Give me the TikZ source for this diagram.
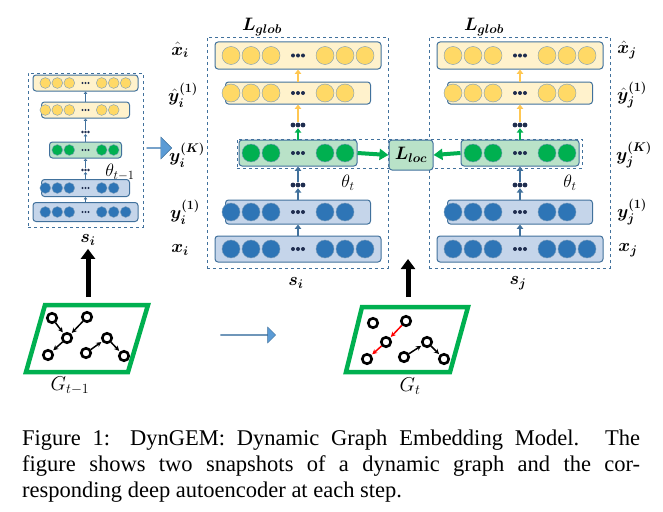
\RequirePackage{fix-cm}
\documentclass[tikz,border=0pt]{standalone}
\usepackage{fontspec}
\setmainfont{Liberation Serif}
\usepackage{amsmath}
\usepackage{bm}
\usetikzlibrary{arrows.meta,shapes.arrows,positioning}

\definecolor{layb}{HTML}{41719C}
\definecolor{ylbox}{HTML}{FFF2CC}
\definecolor{yldot}{HTML}{FFD966}
\definecolor{grbox}{HTML}{B9E2C8}
\definecolor{grdot}{HTML}{00B050}
\definecolor{blbox}{HTML}{C5D5EA}
\definecolor{bldot}{HTML}{2E75B6}
\definecolor{arrb}{HTML}{5B9BD5}
\definecolor{navy}{HTML}{1F2D4F}

\tikzset{
  lay/.style={draw=layb, rounded corners=3pt, line width=1pt, inner sep=0pt},
  ae/.style={draw=layb, dashed, line width=0.9pt, inner sep=0pt},
  lbl/.style={font=\fontsize{18}{20}\selectfont},
  up/.style={-{Triangle[width=#1*2.6pt,length=#1*1.8pt]}, line width=#1*1pt, draw=layb},
  up/.default=2.4,
  yup/.style={up=#1, draw=yldot!80!orange},
  yup/.default=2.4,
  gup/.style={up=#1, draw=grdot},
  gup/.default=2.4,
  loc/.style={-{Triangle[width=11pt,length=9pt]}, line width=4pt, draw=grdot},
  bigup/.style={-{Triangle[width=14pt,length=10pt]}, line width=5pt},
  blk/.style={single arrow, draw=layb, fill=arrb, single arrow head extend=4pt, inner sep=0pt},
  frame/.style={draw=grdot, line width=4.5pt, line join=miter},
  gn/.style={circle, draw, line width=2.6pt, minimum size=9.5pt, inner sep=0pt},
  ge/.style={-{Stealth[length=5pt,width=5pt]}, line width=1.5pt, shorten >=1pt},
}

% layer: name, cx, cy, width, height, colour, left count, right count, pitch
\newcommand\aelayer[9]{%
  \node[lay, fill=#6box, minimum width=#4, minimum height=#5] (#1) at (#2,#3) {};
  \foreach \k in {1,...,#7}
    \fill[#6dot, draw=layb!70, line width=0.4pt] ({#2-(0.35+\k)*#9},#3) circle[radius={0.45*#9pt}];
  \foreach \k in {1,...,#8}
    \fill[#6dot, draw=layb!70, line width=0.4pt] ({#2+(0.35+\k)*#9},#3) circle[radius={0.45*#9pt}];
  \foreach \k in {-1,0,1}
    \fill[navy] ({#2+0.25*\k*#9},#3) circle[radius={0.1*#9pt}];
}
% dots between layers: name, cx, cy, pitch
\newcommand\aedots[4]{%
  \node[minimum width=0.8*#4, minimum height=0.3*#4, inner sep=0pt] (#1) at (#2,#3) {};
  \foreach \k in {-1,0,1}
    \fill[navy] ({#2+0.25*\k*#4},#3) circle[radius={0.12*#4pt}];
}

\begin{document}
\begin{tikzpicture}[x=1pt,y=-1pt]
\useasboundingbox (0,0) rectangle (663,511);

% previous step
\node[ae, minimum width=115, minimum height=154] (aeL) at (85.5,150) {};
\aelayer{ye1L}{85.5}{83}{105}{16}{yl}{3}{3}{12}
\aelayer{ye2L}{85.5}{110}{88}{16}{yl}{3}{2}{12}
\aedots{d1L}{85.5}{132}{12}
\aelayer{grL}{85.5}{150}{72}{16}{gr}{2}{2}{12}
\aedots{d2L}{85.5}{170}{12}
\aelayer{bl2L}{85.5}{188}{88}{17}{bl}{3}{2}{12}
\aelayer{bl1L}{85.5}{212}{105}{19}{bl}{3}{3}{12}
\draw[up=1.3] (bl1L.north) -- (bl2L.south);
\draw[up=1.3] (bl2L.north) -- (d2L.south);
\draw[up=1.3] (d2L.north) -- (grL.south);
\draw[up=1.3] (grL.north) -- (d1L.south);
\draw[up=1.3] (d1L.north) -- (ye2L.south);
\draw[up=1.3] (ye2L.north) -- (ye1L.south);
\node[lbl] at (120,172) {$\theta_{t-1}$};
\node[lbl] (siL) at (88,240) {$\bm{s_i}$};

% current step, node i
\node[ae, minimum width=181, minimum height=231] (aeM) at (297.5,152.5) {};
\node[ae, minimum width=345, minimum height=29] (cross) at (409.5,153.5) {};
\aelayer{ye1M}{298}{55.5}{166}{27}{yl}{3}{3}{20}
\aelayer{ye2M}{298}{93}{145}{22}{yl}{3}{2}{20}
\aedots{d1M}{298}{125}{20}
\aelayer{grM}{298}{153}{118}{26}{gr}{2}{2}{20}
\aedots{d2M}{298}{185}{20}
\aelayer{bl2M}{298}{212}{145}{24}{bl}{3}{2}{20}
\aelayer{bl1M}{298}{249}{166}{26}{bl}{3}{3}{20}
\draw[up] (bl1M.north) -- (bl2M.south);
\draw[up] (bl2M.north) -- (d2M.south);
\draw[up] (d2M.north) -- (grM.south);
\draw[gup] (grM.north) -- (d1M.south);
\draw[yup] (d1M.north) -- (ye2M.south);
\draw[yup] (ye2M.north) -- (ye1M.south);
\node[lbl] at (262,27) {$\bm{L_{glob}}$};
\node[lbl] at (348,183) {$\theta_t$};
\node[lbl] (siM) at (296,283) {$\bm{s_i}$};
\node[lbl] at (180,50) {$\bm{\hat{x}_i}$};
\node[lbl] at (183,95) {$\bm{\hat{y}_i^{(1)}}$};
\node[lbl] (ykM) at (187,155) {$\bm{y_i^{(K)}}$};
\node[lbl] at (185,212) {$\bm{y_i^{(1)}}$};
\node[lbl] at (180,250) {$\bm{x_i}$};

% current step, node j
\node[ae, minimum width=181, minimum height=231] (aeR) at (519.5,152.5) {};
\aelayer{ye1R}{520}{55.5}{166}{27}{yl}{3}{3}{20}
\aelayer{ye2R}{520}{93}{145}{22}{yl}{3}{2}{20}
\aedots{d1R}{520}{125}{20}
\aelayer{grR}{520}{153}{118}{26}{gr}{2}{2}{20}
\aedots{d2R}{520}{185}{20}
\aelayer{bl2R}{520}{212}{145}{24}{bl}{3}{2}{20}
\aelayer{bl1R}{520}{249}{166}{26}{bl}{3}{3}{20}
\draw[up] (bl1R.north) -- (bl2R.south);
\draw[up] (bl2R.north) -- (d2R.south);
\draw[up] (d2R.north) -- (grR.south);
\draw[gup] (grR.north) -- (d1R.south);
\draw[yup] (d1R.north) -- (ye2R.south);
\draw[yup] (ye2R.north) -- (ye1R.south);
\node[lbl] at (484,27) {$\bm{L_{glob}}$};
\node[lbl] at (570,183) {$\theta_t$};
\node[lbl] (sjR) at (518,283) {$\bm{s_j}$};
\node[lbl] at (627,50) {$\bm{\hat{x}_j}$};
\node[lbl] at (632,95) {$\bm{\hat{y}_j^{(1)}}$};
\node[lbl] at (634,155) {$\bm{y_j^{(K)}}$};
\node[lbl] at (632,212) {$\bm{y_j^{(1)}}$};
\node[lbl] at (628,250) {$\bm{x_j}$};

% local loss
\node[lay, fill=grbox, minimum width=44, minimum height=30, lbl] (lloc) at (411,155) {$\bm{L_{loc}}$};
\draw[loc] (grM.east) -- (lloc.west);
\draw[loc] (grR.west) -- (lloc.east);

\node[blk, minimum height=25, minimum width=22] (bk1) at (159,148) {};
\node[blk, minimum height=55, minimum width=16] (bk2) at (248,335) {};

% graph G_{t-1}
\draw[frame] (45,305) -- (148,305) -- (128,372) -- (26,372) -- cycle;
\coordinate (g1top) at (88,297);
\node[gn] (a1) at (52,318) {};
\node[gn] (a2) at (87,317) {};
\node[gn] (a3) at (67,338) {};
\node[gn] (a4) at (48,355) {};
\node[gn] (a5) at (86,353) {};
\node[gn] (a6) at (107,338) {};
\node[gn] (a7) at (124,356) {};
\draw[ge] (a1) -- (a3);
\draw[ge] (a2) -- (a3);
\draw[ge] (a3) -- (a4);
\draw[ge] (a5) -- (a6);
\draw[ge] (a6) -- (a7);
\node[lbl, font=\fontsize{20}{22}\selectfont] at (70,386) {$G_{t-1}$};
\draw[bigup] (g1top) -- (siL.south);

% graph G_t
\draw[frame] (362,307) -- (468,307) -- (450,372) -- (346,372) -- cycle;
\coordinate (g2top) at (408,297);
\node[gn] (b1) at (373,323) {};
\node[gn] (b2) at (406,321) {};
\node[gn] (b3) at (386,342) {};
\node[gn] (b4) at (367,359) {};
\node[gn] (b5) at (404,357) {};
\node[gn] (b6) at (427,342) {};
\node[gn] (b7) at (444,359) {};
\draw[ge, red] (b2) -- (b3);
\draw[ge, red] (b3) -- (b4);
\draw[ge] (b5) -- (b6);
\draw[ge] (b6) -- (b7);
\node[lbl, font=\fontsize{20}{22}\selectfont] at (410,386) {$G_t$};
\draw[bigup] (g2top) -- ++(0,-38);

% caption
\node[anchor=west, inner sep=0pt, font=\fontsize{22.5}{25}\selectfont] (cap1) at (22,440)
  {\makebox[618pt][s]{Figure 1: DynGEM: Dynamic Graph Embedding Model. The}};
\node[anchor=west, inner sep=0pt, font=\fontsize{22.5}{25}\selectfont] (cap2) at (22,466)
  {\makebox[618pt][s]{figure shows two snapshots of a dynamic graph and the cor-}};
\node[anchor=west, inner sep=0pt, font=\fontsize{22.5}{25}\selectfont] (cap3) at (22,492)
  {responding deep autoencoder at each step.};
\end{tikzpicture}
\end{document}
